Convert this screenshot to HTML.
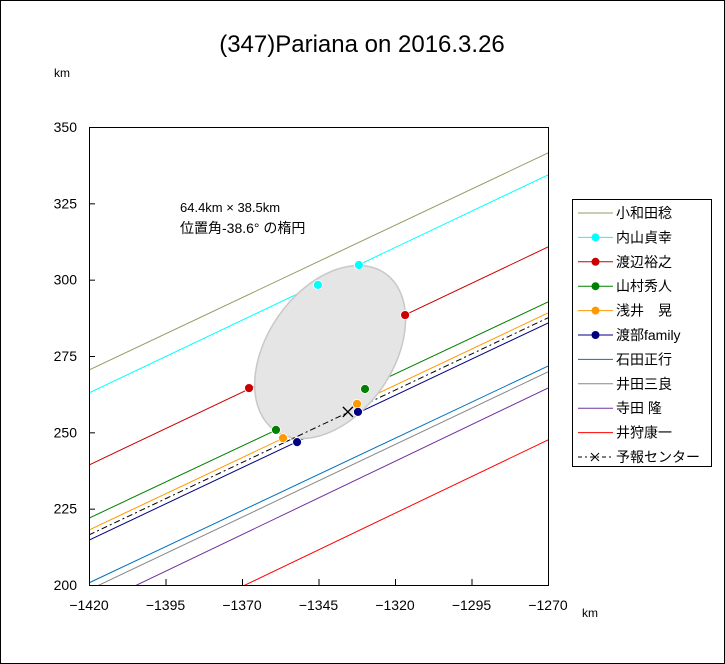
<!DOCTYPE html>
<html><head><meta charset="utf-8"><style>
body{margin:0;background:#fff}
svg{display:block;font-family:"Liberation Sans","Noto Sans CJK JP",sans-serif}
</style></head><body>
<svg id="c" width="725" height="664" viewBox="0 0 725 664">
<rect x="0.5" y="0.5" width="724" height="663" fill="#fff" stroke="#000"/>
<text x="362" y="52" font-size="24" text-anchor="middle">(347)Pariana on 2016.3.26</text>
<text x="54" y="77" font-size="12">km</text>
<text x="582" y="617" font-size="12">km</text>
<text x="180" y="212" font-size="13">64.4km × 38.5km</text>
<text x="180" y="233" font-size="14">位置角-38.6° の楕円</text>
<g id="plot"></g>
<rect x="572.5" y="199.5" width="139" height="267" fill="#fff" stroke="#000"/>
<g id="leg"></g>
</svg>
<script>
const names=["小和田稔","内山貞幸","渡辺裕之","山村秀人","浅井　晃","渡部family","石田正行","井田三良","寺田 隆","井狩康一","予報センター"];
const colors=["#999966","#00ffff","#cc0000","#008000","#ff9900","#000080","#0070c0","#888888","#7030a0","#ff0000","#000000"];
const yLeft=[270.4,262.9,239.3,221.9,218.0,214.7,200.7,198.4,192.5,175.5,216.4];
const yRight=[341.5,334.3,310.7,292.7,289.1,285.8,271.7,269.8,264.5,247.5,287.5];
const markX=[[],[-1345.2,-1331.8],[-1367.7,-1316.7],[-1358.9,-1329.8],[-1356.6,-1332.4],[-1352,-1332.1],[],[],[],[],[]];
const markY=[[],[298.3,304.8],[264.5,288.4],[250.8,264.2],[248.1,259.3],[246.8,256.7],[],[],[],[],[]];
const centerX=-1335.4, centerY=256.7;
const ellipseCX=-1341.2, ellipseCY=276.3;
const xTicks=[-1420,-1395,-1370,-1345,-1320,-1295,-1270];
const yTicks=[200,225,250,275,300,325,350];
const X0=89,X1=548,Y0=585,Y1=127;
const sx=v=>X0+(v+1420)/150*(X1-X0);
const sy=v=>Y0-(v-200)/150*(Y0-Y1);
const NS="http://www.w3.org/2000/svg";
const plot=document.getElementById('plot');
function mk(t,a,p){const e=document.createElementNS(NS,t);for(const k in a)e.setAttribute(k,a[k]);(p||plot).appendChild(e);return e;}
const clip=mk('clipPath',{id:'cp'});mk('rect',{x:X0,y:Y1,width:X1-X0,height:Y0-Y1},clip);
const lg=mk('g',{'clip-path':'url(#cp)'});
for(let i=0;i<names.length;i++){
 const l=mk('line',{x1:sx(-1420),y1:sy(yLeft[i]),x2:sx(-1270),y2:sy(yRight[i]),stroke:colors[i],'stroke-width':1},lg);
 if(i==10)l.setAttribute('stroke-dasharray','6,3,2,3');
 
 
}
const ecx=sx(ellipseCX),ecy=sy(ellipseCY);
const el=mk('ellipse',{cx:ecx,cy:ecy,rx:96,ry:63,transform:`rotate(-55 ${ecx} ${ecy})`,fill:'#e4e5e4',stroke:'#c8c8c8','stroke-width':1.5});


const cl=mk('line',{x1:sx(-1356),y1:sy(yLeft[10]+(yRight[10]-yLeft[10])*(64/150)),x2:sx(-1335.4),y2:sy(yLeft[10]+(yRight[10]-yLeft[10])*(84.6/150)),stroke:'#000','stroke-dasharray':'6,3,2,3'});


for(let i=0;i<names.length;i++)for(let j=0;j<markX[i].length;j++){
 const c=mk('circle',{cx:sx(markX[i][j]),cy:sy(markY[i][j]),r:4.5,fill:colors[i],stroke:'#fff','stroke-width':0.8});
 
 
}
const cx=sx(centerX),cy=sy(centerY);
const cr=mk('path',{d:`M${cx-5},${cy-5}L${cx+5},${cy+5}M${cx+5},${cy-5}L${cx-5},${cy+5}`,stroke:'#000','stroke-width':1.3});


const ax=mk('rect',{x:X0+.5,y:Y1+.5,width:X1-X0,height:Y0-Y1,fill:'none',stroke:'#000'});


for(const t of xTicks){
 mk('line',{x1:sx(t)+.5,x2:sx(t)+.5,y1:Y0,y2:Y0-6,stroke:'#000'});
 const tx=mk('text',{x:sx(t),y:Y0+25,'font-size':14,'text-anchor':'middle'});tx.textContent=(t<0?'\u2212'+(-t):t);
 
 
}
for(const t of yTicks){
 mk('line',{x1:X0,x2:X0+6,y1:sy(t)+.5,y2:sy(t)+.5,stroke:'#000'});
 const tx=mk('text',{x:X0-12,y:sy(t)+5,'font-size':14,'text-anchor':'end'});tx.textContent=t;
 
 
}
const leg=document.getElementById('leg');
for(let i=0;i<names.length;i++){
 const y=213+i*24.4;
 const l=mk('line',{x1:578,x2:613,y1:y,y2:y,stroke:colors[i]},leg);
 if(i==10)l.setAttribute('stroke-dasharray','4,3,2,3');
 if(i>=1&&i<=5)mk('circle',{cx:595.5,cy:y,r:4,fill:colors[i]},leg);
 if(i==10)mk('path',{d:`M591,${y-4}L599,${y+4}M599,${y-4}L591,${y+4}`,stroke:'#000'},leg);
 const t=mk('text',{x:616,y:y+5,'font-size':14},leg);t.textContent=names[i];
 
 
}
</script>
</body></html>
